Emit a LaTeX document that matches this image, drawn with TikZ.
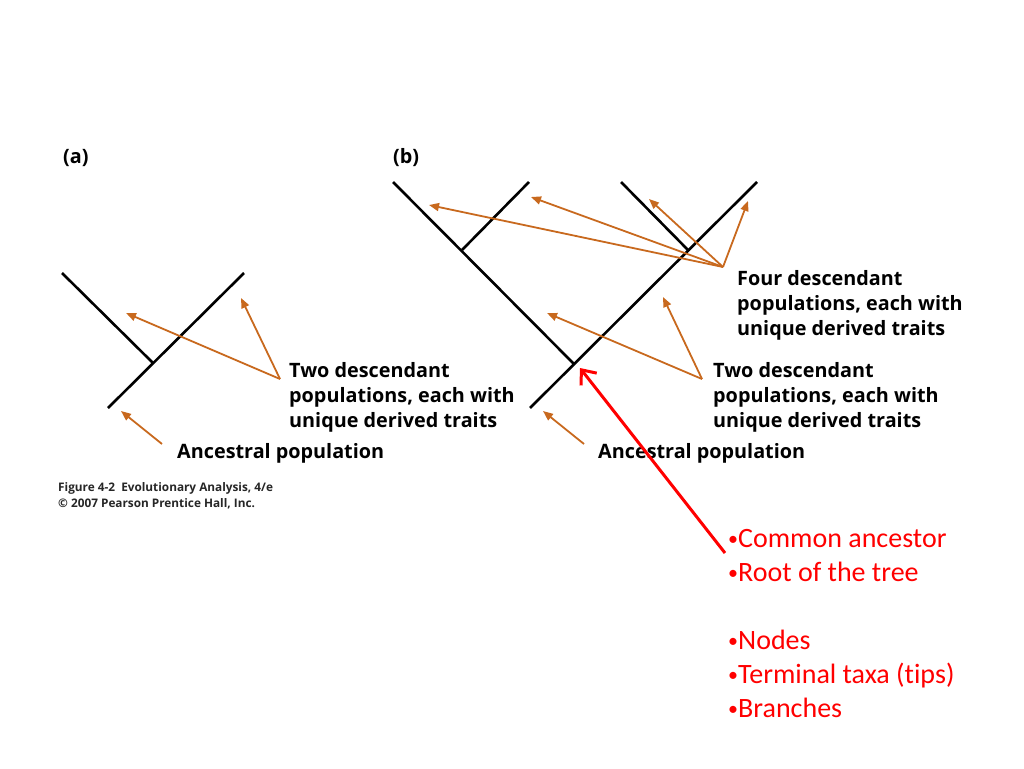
\documentclass[tikz,border=0pt]{standalone}
\usepackage{fontspec}
\newfontfamily\figfont{Open Sans}
\newfontfamily\slidefont{Carlito}[Ligatures=NoCommon]
\usetikzlibrary{arrows.meta}
\definecolor{arrowbrown}{HTML}{C8691E}
\definecolor{slidered}{HTML}{FF0000}
\newcommand\slidebullet{{\fontsize{20}{20}\selectfont\raisebox{2pt}{\textbullet}}}

\begin{document}
\begin{tikzpicture}[
    x=1pt, y=-1pt,
    branch/.style={
        line width=2.6pt,
        draw=black
    },
    pointer/.style={
        draw=arrowbrown,
        line width=1.8pt,
        -{Triangle[length=10pt,width=8pt]}
    },
    figtext/.style={
        font=\figfont\bfseries\fontsize{19.8}{25}\selectfont,
        align=left,
        anchor=base west,
        inner sep=0pt
    },
    credit/.style={
        font=\figfont\bfseries\fontsize{11.8}{16}\selectfont,
        text=black!85,
        align=left,
        anchor=base west,
        inner sep=0pt
    },
    slidetext/.style={
        font=\slidefont\fontsize{28}{34}\selectfont,
        text=slidered,
        align=left,
        anchor=base west,
        inner sep=0pt
    }
]
\useasboundingbox (0,0) rectangle (1024,768);

\node[figtext] (panelA) at (63,163) {(a)};
\node[figtext] (panelB) at (393,163) {(b)};

\coordinate (aRoot) at (108,408);
\coordinate (aTipR) at (244,273);
\coordinate (aTipL) at (62,273);
\coordinate (aNode) at (153,363);
\draw[branch] (aRoot) -- (aTipR);
\draw[branch] (aTipL) -- (aNode);

\coordinate (bRoot) at (530,408);
\coordinate (bTipR) at (757,182);
\coordinate (bTipL) at (393,182);
\coordinate (bNode) at (574,364);
\coordinate (bTipLR) at (529,182);
\coordinate (bNodeL) at (462,250);
\coordinate (bTipRL) at (621,182);
\coordinate (bNodeR) at (688,250);
\draw[branch] (bRoot) -- (bTipR);
\draw[branch] (bTipL) -- (bNode);
\draw[branch] (bNodeL) -- (bTipLR);
\draw[branch] (bTipRL) -- (bNodeR);

\node[figtext] (twoA) at (289,427) {Two descendant\\populations, each with\\unique derived traits};
\node[figtext] (ancA) at (177,458) {Ancestral population};
\node[credit] (creditA) at (58,507) {Figure 4-2\ \ Evolutionary Analysis, 4/e\\\textcopyright{} 2007 Pearson Prentice Hall, Inc.};

\node[figtext] (fourB) at (737,335) {Four descendant\\populations, each with\\unique derived traits};
\node[figtext] (twoB) at (713,427) {Two descendant\\populations, each with\\unique derived traits};
\node[figtext] (ancB) at (598,458) {Ancestral population};

\coordinate (twoAFrom) at (280,379);
\coordinate (twoATipL) at (126,313);
\coordinate (twoATipR) at (241,298);
\coordinate (ancAFrom) at (162,444);
\coordinate (ancATip) at (121,411);
\draw[pointer] (twoAFrom) -- (twoATipL);
\draw[pointer] (twoAFrom) -- (twoATipR);
\draw[pointer] (ancAFrom) -- (ancATip);

\coordinate (fourBFrom) at (723,267);
\coordinate (fourBTip1) at (429,205);
\coordinate (fourBTip2) at (531,197);
\coordinate (fourBTip3) at (649,199);
\coordinate (fourBTip4) at (748,201);
\foreach \t in {1,2,3,4}
    \draw[pointer] (fourBFrom) -- (fourBTip\t);

\coordinate (twoBFrom) at (702,379);
\coordinate (twoBTipL) at (547,313);
\coordinate (twoBTipR) at (663,297);
\coordinate (ancBFrom) at (584,444);
\coordinate (ancBTip) at (543,411);
\draw[pointer] (twoBFrom) -- (twoBTipL);
\draw[pointer] (twoBFrom) -- (twoBTipR);
\draw[pointer] (ancBFrom) -- (ancBTip);

\node[slidetext] (terms) at (728,717) {\slidebullet Common ancestor\\\slidebullet Root of the tree\\[34pt]\slidebullet Nodes\\\slidebullet Terminal taxa (tips)\\\slidebullet Branches};

\coordinate (rootFrom) at (725,553);
\coordinate (rootMark) at (580,368);
\draw[draw=slidered, line width=3pt, -{Straight Barb[length=12pt,width=20pt,line width=3pt]}] (rootFrom) -- (rootMark);

\end{tikzpicture}
\end{document}
